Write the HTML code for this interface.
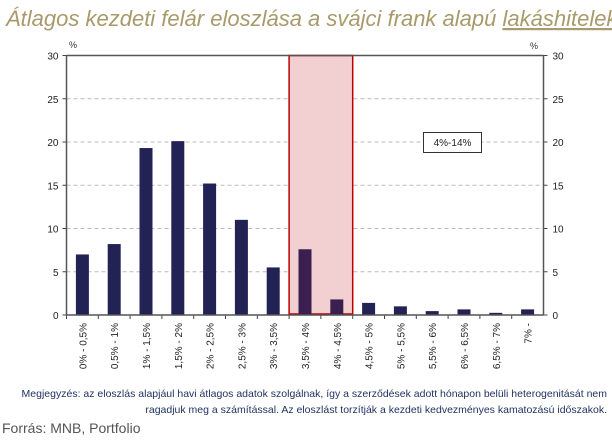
<!DOCTYPE html>
<html><head><meta charset="utf-8"><style>
body{margin:0;background:#fff;}
svg{display:block;font-family:"Liberation Sans",sans-serif;}
</style></head><body>
<svg width="612" height="442" viewBox="0 0 612 442">
<text x="6" y="26" font-size="22" font-style="italic" fill="#a89a6a">Átlagos kezdeti felár eloszlása a svájci frank alapú <tspan text-decoration="underline">lakáshiteleknél</tspan></text>
<g id="plot"></g>
<text x="607" y="397" font-size="10.5" fill="#1f2f5f" text-anchor="end">Megjegyzés: az eloszlás alapjául havi átlagos adatok szolgálnak, így a szerződések adott hónapon belüli heterogenitását nem</text>
<text x="607" y="413" font-size="10.5" fill="#1f2f5f" text-anchor="end">ragadjuk meg a számítással. Az eloszlást torzítják a kezdeti kedvezményes kamatozású időszakok.</text>
<text x="2" y="433" font-size="14" fill="#555">Forrás: MNB, Portfolio</text>
</svg>
<script>
const categories=["0% - 0,5%","0,5% - 1%","1% - 1,5%","1,5% - 2%","2% - 2,5%","2,5% - 3%","3% - 3,5%","3,5% - 4%","4% - 4,5%","4,5% - 5%","5% - 5,5%","5,5% - 6%","6% - 6,5%","6,5% - 7%","7% -"];
const values=[7.0,8.2,19.3,20.1,15.2,11.0,5.5,7.6,1.8,1.4,1.0,0.45,0.65,0.25,0.65];
const ticks=[0,5,10,15,20,25,30];
const highlight=[7,8];
const NS="http://www.w3.org/2000/svg";
const g=document.getElementById('plot');
const L=66.5,R=543.5,T=55.5,B=315;
const y=v=>B-(v/30)*(B-T);
const bw=(R-L)/categories.length;
const x=i=>L+bw*i;
function mk(t,a,p){const e=document.createElementNS(NS,t);for(const k in a)e.setAttribute(k,a[k]);(p||g).appendChild(e);return e;}
// gridlines
ticks.forEach(t=>{
  if(t>0&&t<30){const l=mk('line',{x1:L,x2:R,y1:y(t),y2:y(t),stroke:'#bbb','stroke-dasharray':'4,3','stroke-width':1});
  }
  const a=mk('text',{x:L-8,y:y(t)+4,'font-size':10,'text-anchor':'end',fill:'#222'});a.textContent=t;
  
  const b=mk('text',{x:R+9,y:y(t)+4,'font-size':10,fill:'#222'});b.textContent=t;
  
  mk('line',{x1:L-4,x2:L,y1:y(t),y2:y(t),stroke:'#444'});mk('line',{x1:R,x2:R+4,y1:y(t),y2:y(t),stroke:'#444'});
});
// highlight box
const hb=mk('rect',{x:x(highlight[0]),y:y(30),width:bw*highlight.length,height:y(0)-y(30)-1,fill:'#f2cfd0',stroke:'#c00000','stroke-width':1.5});

// bars
values.forEach((v,i)=>{
  const r=mk('rect',{x:x(i)+bw/2-6.5,y:y(v),width:13,height:B-y(v),fill:highlight.includes(i)?'#3b1f50':'#222255'});
  
  mk('line',{x1:x(i),x2:x(i),y1:B,y2:B+4,stroke:'#444'});
  const tx=x(i)+bw/2+4,ty=B+8;
  const t=mk('text',{x:tx,y:ty,'font-size':10,'text-anchor':'end',fill:'#222',transform:`rotate(-90 ${tx} ${ty})`});
  t.textContent=categories[i];
  
});
// axes
mk('line',{x1:L,x2:R,y1:T,y2:T,stroke:'#555','stroke-width':1.5});
mk('line',{x1:L,x2:R,y1:B,y2:B,stroke:'#555','stroke-width':1.5});
mk('line',{x1:L,x2:L,y1:T,y2:B,stroke:'#555','stroke-width':1.5});
mk('line',{x1:R,x2:R,y1:T,y2:B,stroke:'#555','stroke-width':1.5});
const u1=mk('text',{x:69,y:48,'font-size':9,fill:'#333'});u1.textContent='%';

const u2=mk('text',{x:530,y:49,'font-size':9,fill:'#333'});u2.textContent='%';

const ab=mk('rect',{x:423.5,y:132.5,width:58,height:20,fill:'#fff',stroke:'#333'});

const at=mk('text',{x:452.5,y:146,'font-size':10,'text-anchor':'middle',fill:'#222'});at.textContent='4%-14%';

</script>
</body></html>
